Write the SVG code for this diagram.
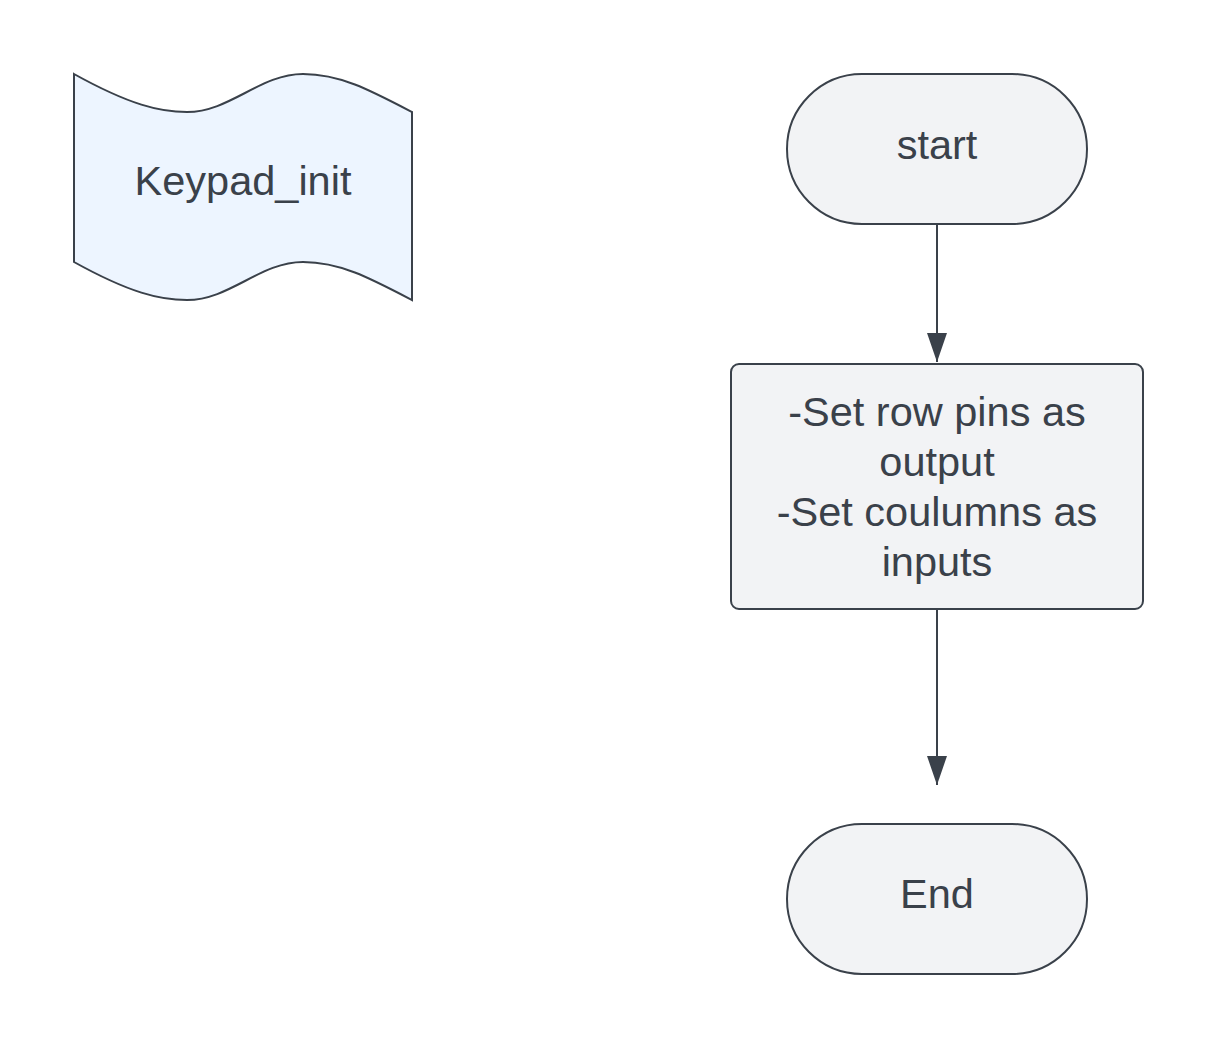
<svg xmlns="http://www.w3.org/2000/svg" width="1219" height="1050" viewBox="0 0 1219 1050">
<defs>
<style>
.shape{fill:#f2f3f5;stroke:#3a414a;stroke-width:2}
.doc{fill:#edf5ff;stroke:#3a414a;stroke-width:2}
.lbl{font-family:"Liberation Sans",Arial,sans-serif;font-size:41.5px;fill:#3a414a;text-anchor:middle}
.conn{stroke:#3a414a;stroke-width:2;fill:none}
</style>
<marker id="ah" markerWidth="30" markerHeight="20" refX="29" refY="10" orient="auto" markerUnits="userSpaceOnUse" viewBox="0 0 30 20">
<path d="M0,0 L29,10 L0,20 Z" fill="#3a414a"/>
</marker>
</defs>
<rect width="1219" height="1050" fill="#ffffff"/>
<g id="keypad_init">
<path class="doc" d="M74,74 C130,105 160,112 187,112 C230,112 260,74 303,74 C340,74 370,90 412,112 L412,300 C370,278 340,262 303,262 C260,262 230,300 187,300 C160,300 130,293 74,262 Z"/>
<text class="lbl" x="243" y="195">Keypad_init</text>
</g>
<g id="start">
<rect class="shape" x="787" y="74" width="300" height="150" rx="75" ry="75"/>
<text class="lbl" x="937" y="159">start</text>
</g>
<g id="process">
<rect class="shape" x="731" y="364" width="412" height="245" rx="8" ry="8"/>
<text class="lbl" x="937" y="426">-Set row pins as</text>
<text class="lbl" x="937" y="476">output</text>
<text class="lbl" x="937" y="526">-Set coulumns as</text>
<text class="lbl" x="937" y="576">inputs</text>
</g>
<g id="end">
<rect class="shape" x="787" y="824" width="300" height="150" rx="75" ry="75"/>
<text class="lbl" x="937" y="908">End</text>
</g>
<g id="connectors">
<line class="conn" x1="937" y1="225" x2="937" y2="362" marker-end="url(#ah)"/>
<line class="conn" x1="937" y1="610" x2="937" y2="785" marker-end="url(#ah)"/>
</g>
</svg>
